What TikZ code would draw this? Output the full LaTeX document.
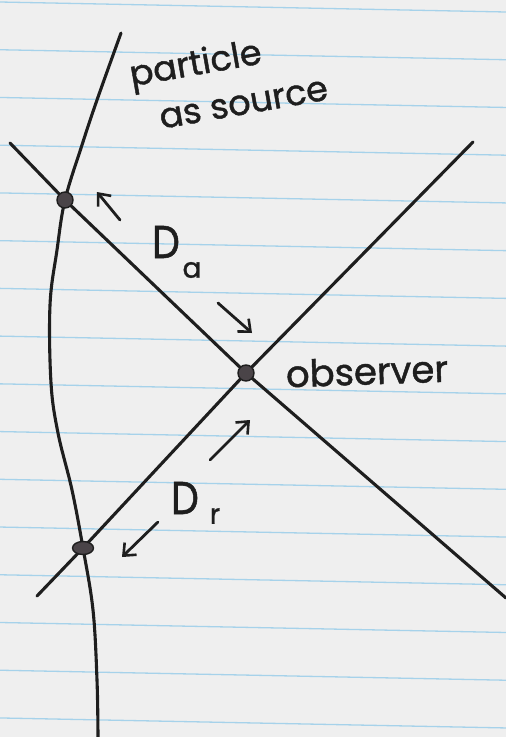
\documentclass[tikz,border=0pt]{standalone}
\usepackage{fontspec}
\setmainfont{Poppins}[FakeBold=1.2]
\usetikzlibrary{arrows.meta,shapes.geometric}
\definecolor{paper}{HTML}{EFEFEF}
\definecolor{rule}{HTML}{A6D2EA}
\definecolor{pen}{HTML}{1E1E1E}
\definecolor{dotfill}{HTML}{4A4448}
\tikzset{
  ruleline/.style={rule, line width=1.3pt},
  penline/.style={pen, line width=3.1pt, line cap=round, line join=round},
  worldline/.style={pen, line width=3.1pt, line cap=round},
  pointer/.style={pen, line width=2.8pt, line cap=round, -{Straight Barb[length=10pt, width=17pt, line width=2.6pt]}},
  event/.style={circle, fill=dotfill, draw=pen, line width=1.4pt, inner sep=0pt, minimum size=16pt},
  flatevent/.style={ellipse, fill=dotfill, draw=pen, line width=1.4pt, inner sep=0pt, minimum width=21pt, minimum height=13pt},
  hand/.style={text=pen, font=\fontsize{35}{47}\selectfont, inner sep=0pt},
  bigD/.style={text=pen, font=\fontsize{46}{46}\selectfont, inner sep=0pt, xscale=0.85},
  subs/.style={text=pen, font=\fontsize{28}{28}\selectfont, inner sep=0pt}
}
\begin{document}
\begin{tikzpicture}[x=1pt, y=-1pt]
  \useasboundingbox (0,0) rectangle (506,737);
  \fill[paper] (0,0) rectangle (506,737);
  % ruled paper
  \foreach \i in {0,...,15} {
    \draw[ruleline] (0,{2+47.73*\i}) -- (506,{12+47.73*\i});
  }
  % events
  \coordinate (src) at (65,200);
  \coordinate (obs) at (246,373);
  \coordinate (ret) at (83,548);
  % light cone ends
  \coordinate (ul) at (10,143);
  \coordinate (ur) at (473,142);
  \coordinate (ll) at (37,596);
  \coordinate (lr) at (506,598);
  \draw[penline] (ul) -- (src) -- (obs);
  \draw[penline] (ur) -- (obs);
  \draw[penline] (obs) -- (ret) -- (ll);
  \draw[penline] (obs) -- (lr);
  % worldline of the particle
  \coordinate (wtop) at (121,33);
  \coordinate (wbot) at (98,737);
  \draw[worldline] plot[smooth, tension=0.6] coordinates {
    (wtop) (97,100) (82,145) (src) (57,250) (50,305) (51,383) (58,433) (72,490) (ret) (93,610) (97,680) (wbot)};
  % event dots
  \node[event] (srcdot) at (src) {};
  \node[event] (obsdot) at (obs) {};
  \node[flatevent] (retdot) at (ret) {};
  % arrows
  \coordinate (a1s) at (120,220); \coordinate (a1e) at (97,192);
  \coordinate (a2s) at (218,303); \coordinate (a2e) at (252,333);
  \coordinate (a3s) at (210,460); \coordinate (a3e) at (250,420);
  \coordinate (a4s) at (158,522); \coordinate (a4e) at (122,557);
  \draw[pointer] (a1s) -- (a1e);
  \draw[pointer] (a2s) -- (a2e);
  \draw[pointer] (a3s) -- (a3e);
  \draw[pointer] (a4s) -- (a4e);
  % labels
  \node[hand, rotate=10, align=left, anchor=north west] (lblsrc) at (127,60) {particle\\\hspace*{22pt}as source};
  \node[hand, rotate=2, font=\fontsize{37}{37}\selectfont] (lblobs) at (367,371) {observer};
  \node[bigD] (Da) at (166,242) {D};
  \node[subs] (Das) at (192,270) {a};
  \node[bigD] (Dr) at (185,498) {D};
  \node[subs] (Drs) at (215,516) {r};
\end{tikzpicture}
\end{document}
